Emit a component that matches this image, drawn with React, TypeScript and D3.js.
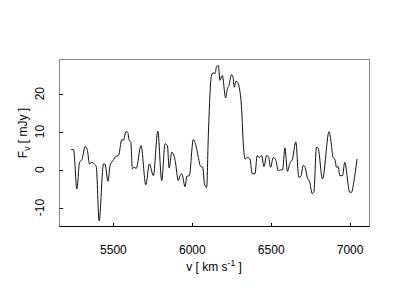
import React from "react";
import * as d3 from "d3";

const velocity = [
  5232, 5247, 5268, 5285, 5300, 5321, 5335, 5348, 5363, 5378, 5391, 5409, 5437, 5447, 5465, 5479,
  5498, 5515, 5532, 5553, 5563, 5580, 5591, 5599, 5610, 5620, 5631, 5644, 5675, 5705, 5728, 5753,
  5781, 5806, 5827, 5842, 5853, 5870, 5880, 5891, 5911, 5922, 5933, 5954, 5965, 5981, 6006, 6023,
  6038, 6053, 6066, 6077, 6091, 6101, 6120, 6131, 6144, 6154, 6165, 6175, 6190, 6211, 6222, 6232,
  6249, 6258, 6266, 6277, 6287, 6297, 6313, 6323, 6334, 6344, 6354, 6365, 6380, 6397, 6411, 6424,
  6439, 6454, 6471, 6484, 6496, 6513, 6530, 6544, 6559, 6572, 6587, 6603, 6618, 6635, 6656, 6675,
  6688, 6703, 6715, 6728, 6745, 6759, 6770, 6787, 6797, 6825, 6867, 6878, 6892, 6903, 6914, 6924,
  6935, 6952, 6966, 6998, 7009, 7023, 7044,
];

const flux = [
  5.3, 5.3, -5.1, 1.9, 2.6, 6.1, 5.0, 1.5, 1.9, 1.5, 0.8, -13.5, 1.5, 1.4, -3.1, 1.1,
  2.4, 3.5, 3.7, 7.9, 7.7, 10.0, 9.8, 7.8, 7.2, 0.2, 0.6, 0.3, 6.3, -4.0, 1.5, -1.6,
  10.1, -2.9, 6.8, 6.3, 0.4, 4.6, 4.1, 2.4, -2.9, -1.6, -1.1, -4.5, -1.8, -1.6, 7.9, 6.3,
  3.2, 0.8, 0.6, -3.8, -4.7, 8.5, 24.5, 25.5, 25.3, 27.2, 27.4, 23.5, 24.8, 18.9, 21.3, 22.2,
  25.0, 24.3, 21.7, 23.3, 23.0, 21.7, 15.6, 6.8, 2.8, 3.1, 3.2, 2.8, -1.1, -1.1, 3.7, 3.2,
  3.7, 0.8, 3.7, 3.2, 0.6, 3.2, 2.4, -0.3, -0.1, -0.1, 5.7, -0.5, 1.6, 2.8, 7.3, -2.0,
  -1.8, 1.1, 0.6, -2.0, -3.4, -6.3, -6.0, 5.9, 5.7, -2.5, 10.0, 7.7, 3.2, 2.8, 0.6, 0.8,
  -1.6, -1.6, 1.9, -6.0, -6.0, -3.4, 2.8,
];

const xTicks = [5500, 6000, 6500, 7000];
const yTicks = [-10, 0, 10, 20];
const xDomain = [5158, 7123];
const yDomain = [-15.0, 29.0];

export default function App() {
  const left = 59.5, right = 369.5, top = 59.5, bottom = 226.5;
  const x = d3.scaleLinear().domain(xDomain).range([left, right]);
  const y = d3.scaleLinear().domain(yDomain).range([bottom, top]);
  const pts = velocity.map((v, i) => [v, flux[i]] as [number, number]);
  const line = d3
    .line<[number, number]>()
    .x((d) => x(d[0]))
    .y((d) => y(d[1]))
    .curve(d3.curveMonotoneX);
  const font = "'Liberation Sans', Arial, Helvetica, sans-serif";
  const tl = 3.6;
  return (
    <svg width={400} height={300} style={{ position: "absolute", left: 0, top: 0 }} fontFamily={font}>
      <rect x={0} y={0} width={400} height={300} fill="#fff" />
      <path d={line(pts) || ""} fill="none" stroke="#111" strokeWidth={1} />
      <rect x={left} y={top} width={right - left} height={bottom - top} fill="none" stroke="#888" strokeWidth={1} />
      <line x1={left} x2={right} y1={bottom} y2={bottom} stroke="#000" strokeWidth={1} />
      {xTicks.map((t) => (
        <g key={"x" + t}>
          <line x1={Math.round(x(t)) + 0.5} x2={Math.round(x(t)) + 0.5} y1={bottom} y2={bottom - tl} stroke="#000" />
          <text x={x(t)} y={253.5} textAnchor="middle" fontSize={12} fill="#000">
            {t}
          </text>
        </g>
      ))}
      {yTicks.map((t) => (
        <g key={"y" + t}>
          <line x1={left} x2={left + tl} y1={Math.round(y(t)) + 0.5} y2={Math.round(y(t)) + 0.5} stroke="#000" />
          <text transform={`translate(43.6,${y(t)}) rotate(-90)`} textAnchor="middle" fontSize={12} fill="#000">
            {t}
          </text>
        </g>
      ))}
      <text x={214} y={271} textAnchor="middle" fontSize={12} fill="#000">
        v [ km s<tspan dy={-5} fontSize={8.5}>-1</tspan>
        <tspan dy={5}> ]</tspan>
      </text>
      <text transform="translate(26.5,133) rotate(-90)" textAnchor="middle" fontSize={12} fill="#000">
        F<tspan dy={3} fontSize={8.5}>ν</tspan>
        <tspan dy={-3}> [ mJy ]</tspan>
      </text>
    </svg>
  );
}
